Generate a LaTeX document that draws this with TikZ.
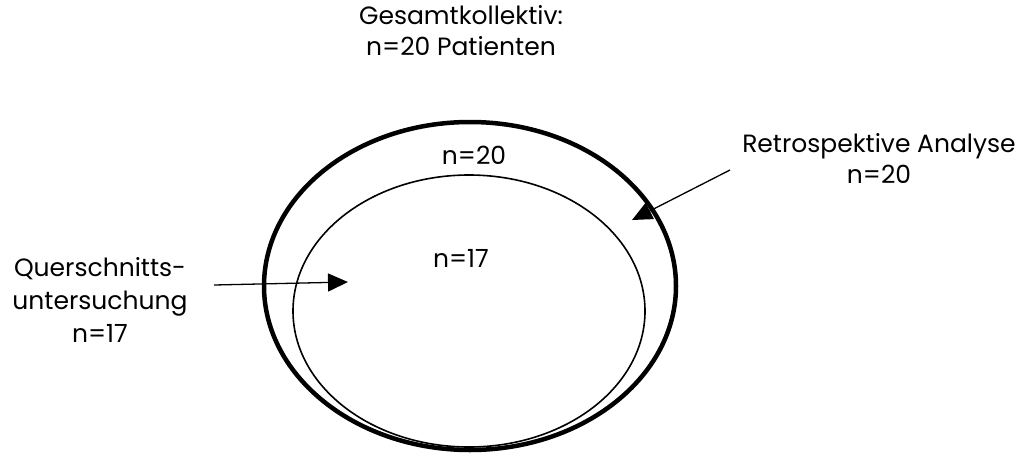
\documentclass[tikz,border=0pt]{standalone}
\usepackage{fontspec}
\setmainfont{Poppins}
\usetikzlibrary{arrows.meta}
\begin{document}
\begin{tikzpicture}[x=1pt,y=-1pt,
  lbl/.style={font=\fontsize{25}{31}\selectfont, align=center, inner sep=0pt},
  arr/.style={line width=1.3pt, -{Triangle[length=20pt,width=18pt]}}]
\useasboundingbox (0,0) rectangle (1031,456);
\draw[line width=4.5pt] (470,286) ellipse [x radius=206, y radius=164];
\draw[line width=1.6pt] (469,311) ellipse [x radius=176, y radius=136];
\node[lbl] (top) at (461,31) {Gesamtkollektiv:\\n=20 Patienten};
\node[lbl] (n20) at (474,155) {n=20};
\node[lbl] (n17) at (461,258) {n=17};
\node[lbl, font=\fontsize{25}{33}\selectfont] (quer) at (100,300) {Querschnitts-\\untersuchung\\n=17};
\node[lbl] (retro) at (879,158) {Retrospektive Analyse\\n=20};
\coordinate (qs) at (214,285);
\coordinate (qe) at (348,282);
\coordinate (rs) at (730,170);
\coordinate (re) at (632,220);
\draw[arr] (qs) -- (qe);
\draw[arr] (rs) -- (re);
\end{tikzpicture}
\end{document}
